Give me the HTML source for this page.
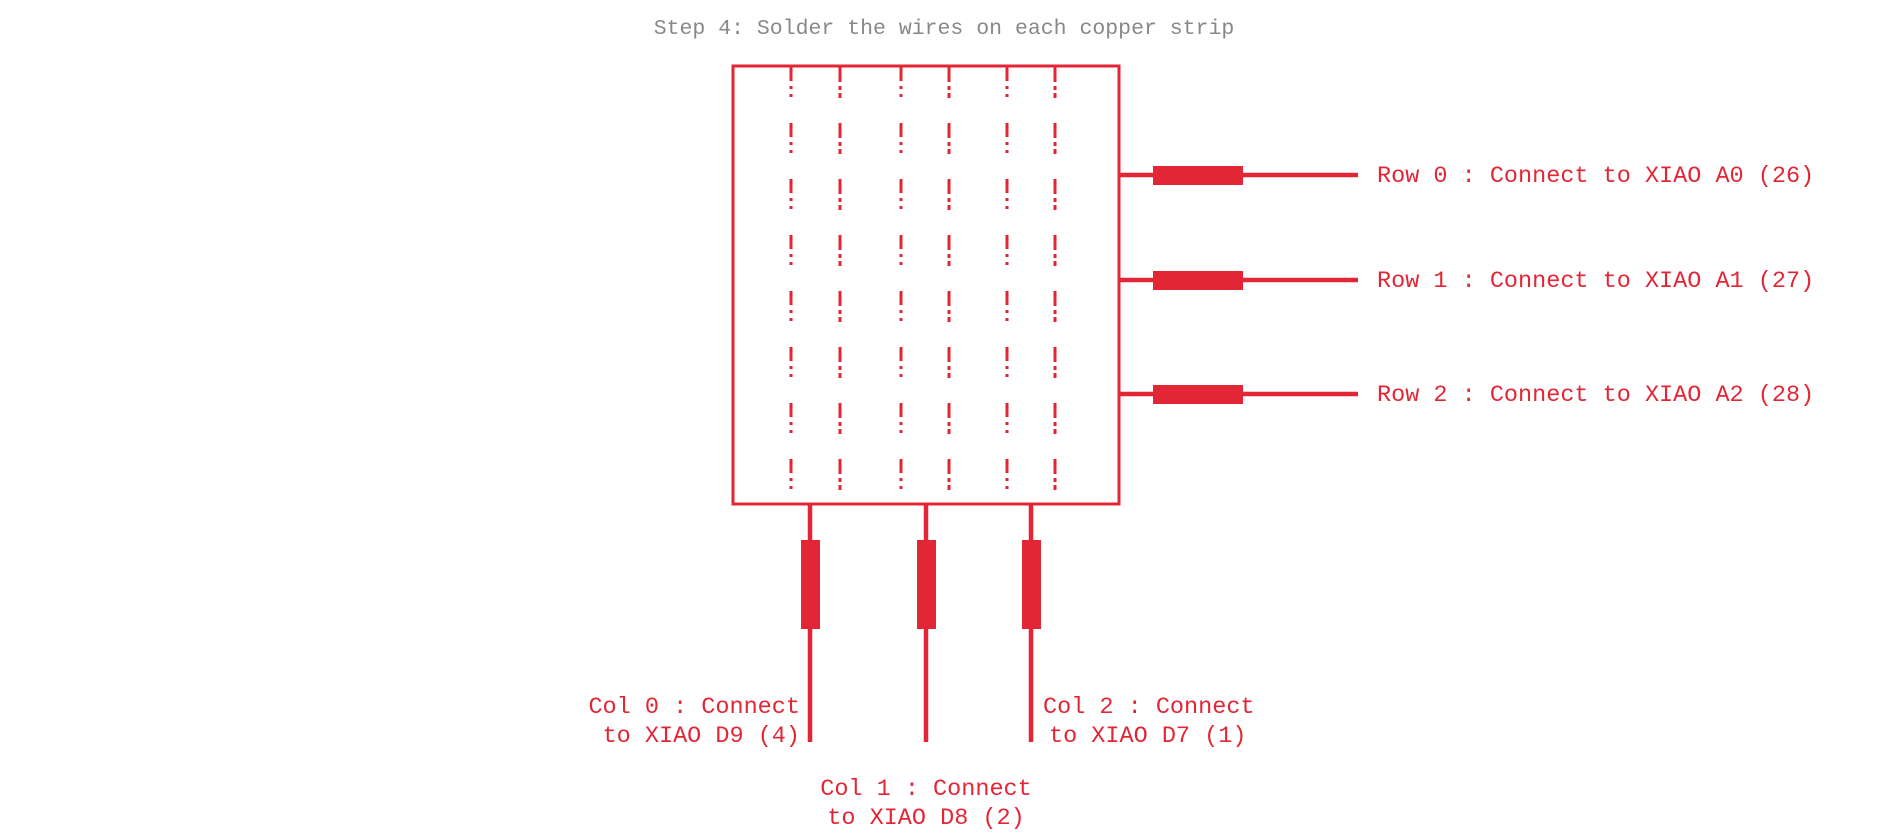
<!DOCTYPE html>
<html><head><style>
html,body{margin:0;padding:0;background:#fff;}
svg{display:block;}
text{font-family:"Liberation Mono",monospace;}
</style></head><body>
<svg width="1889" height="840" viewBox="0 0 1889 840" xmlns="http://www.w3.org/2000/svg">
<text x="944" y="34" font-size="21.5" fill="#888" text-anchor="middle">Step 4: Solder the wires on each copper strip</text>
<rect x="733" y="66" width="386" height="438" fill="none" stroke="#e32636" stroke-width="3"/>
<g stroke="#e32636" stroke-width="3">
<g stroke-dasharray="14 5 3 5 3 26">
<line x1="791" y1="67" x2="791" y2="502"/>
<line x1="901" y1="67" x2="901" y2="502"/>
<line x1="1007" y1="67" x2="1007" y2="502"/>
</g>
<g stroke-dasharray="15 4 4 3 5 25">
<line x1="840" y1="67" x2="840" y2="502"/>
<line x1="949" y1="67" x2="949" y2="502"/>
<line x1="1055" y1="67" x2="1055" y2="502"/>
</g>
</g>
<g stroke="#e32636" stroke-width="4.5" fill="#e32636">
<line x1="1119" y1="175" x2="1358" y2="175"/>
<line x1="1119" y1="280" x2="1358" y2="280"/>
<line x1="1119" y1="394" x2="1358" y2="394"/>
<line x1="810" y1="504" x2="810" y2="742"/>
<line x1="926" y1="504" x2="926" y2="742"/>
<line x1="1031" y1="504" x2="1031" y2="742"/>
</g>
<g fill="#e32636">
<rect x="1153" y="166" width="90" height="19"/>
<rect x="1153" y="271" width="90" height="19"/>
<rect x="1153" y="385" width="90" height="19"/>
<rect x="801" y="540" width="19" height="89"/>
<rect x="917" y="540" width="19" height="89"/>
<rect x="1022" y="540" width="19" height="89"/>
</g>
<g fill="#e32636" font-size="23.5">
<text x="1377" y="182">Row 0 : Connect to XIAO A0 (26)</text>
<text x="1377" y="287">Row 1 : Connect to XIAO A1 (27)</text>
<text x="1377" y="401">Row 2 : Connect to XIAO A2 (28)</text>
<text x="800" y="713" text-anchor="end">Col 0 : Connect</text>
<text x="800" y="742" text-anchor="end">to XIAO D9 (4)</text>
<text x="1043" y="713">Col 2 : Connect</text>
<text x="1049" y="742">to XIAO D7 (1)</text>
<text x="926" y="795" text-anchor="middle">Col 1 : Connect</text>
<text x="926" y="824" text-anchor="middle">to XIAO D8 (2)</text>
</g>
</svg>
</body></html>
